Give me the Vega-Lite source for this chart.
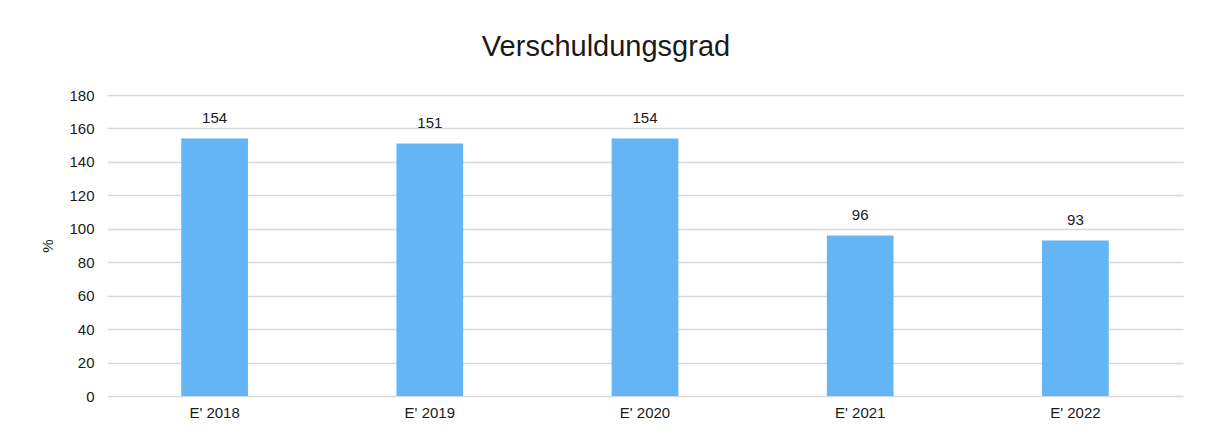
{
  "$schema": "https://vega.github.io/schema/vega-lite/v6.json",
  "width": 1076,
  "height": 301,
  "autosize": {"type": "none"},
  "padding": {"left": 107, "top": 95, "right": 22, "bottom": 39},
  "background": "white",
  "title": {
    "text": "Verschuldungsgrad",
    "font": "Liberation Sans",
    "fontSize": 29,
    "fontWeight": "normal",
    "color": "#1a1a1a",
    "anchor": "middle",
    "dx": -39,
    "baseline": "alphabetic",
    "offset": 3
  },
  "data": {
    "values": [
      {"jahr": "E' 2018", "wert": 154},
      {"jahr": "E' 2019", "wert": 151},
      {"jahr": "E' 2020", "wert": 154},
      {"jahr": "E' 2021", "wert": 96},
      {"jahr": "E' 2022", "wert": 93}
    ]
  },
  "encoding": {
    "x": {
      "field": "jahr",
      "type": "nominal",
      "sort": null,
      "scale": {"paddingInner": 0.69, "paddingOuter": 0.345},
      "axis": {
        "title": null,
        "labelAngle": 0,
        "labelFont": "Liberation Sans",
        "labelFontSize": 15,
        "labelColor": "#1a1a1a",
        "labelPadding": 9,
        "ticks": false,
        "domain": false,
        "grid": false
      }
    },
    "y": {
      "field": "wert",
      "type": "quantitative",
      "scale": {"domain": [0, 180], "nice": false},
      "axis": {
        "title": "%",
        "titleFont": "Liberation Sans",
        "titleFontSize": 15,
        "titleFontWeight": "normal",
        "titleColor": "#1a1a1a",
        "titlePadding": 13,
        "values": [0, 20, 40, 60, 80, 100, 120, 140, 160, 180],
        "labelFont": "Liberation Sans",
        "labelFontSize": 15,
        "labelColor": "#1a1a1a",
        "labelPadding": 13,
        "ticks": false,
        "domain": false,
        "grid": true,
        "gridColor": "#d9d9d9",
        "gridWidth": 1.5
      }
    }
  },
  "layer": [
    {"mark": {"type": "bar", "color": "#64B5F6"}},
    {
      "mark": {
        "type": "text",
        "font": "Liberation Sans",
        "fontSize": 15,
        "color": "#1a1a1a",
        "baseline": "alphabetic",
        "dy": -15
      },
      "encoding": {"text": {"field": "wert", "type": "quantitative"}}
    }
  ],
  "config": {"view": {"stroke": null}}
}
